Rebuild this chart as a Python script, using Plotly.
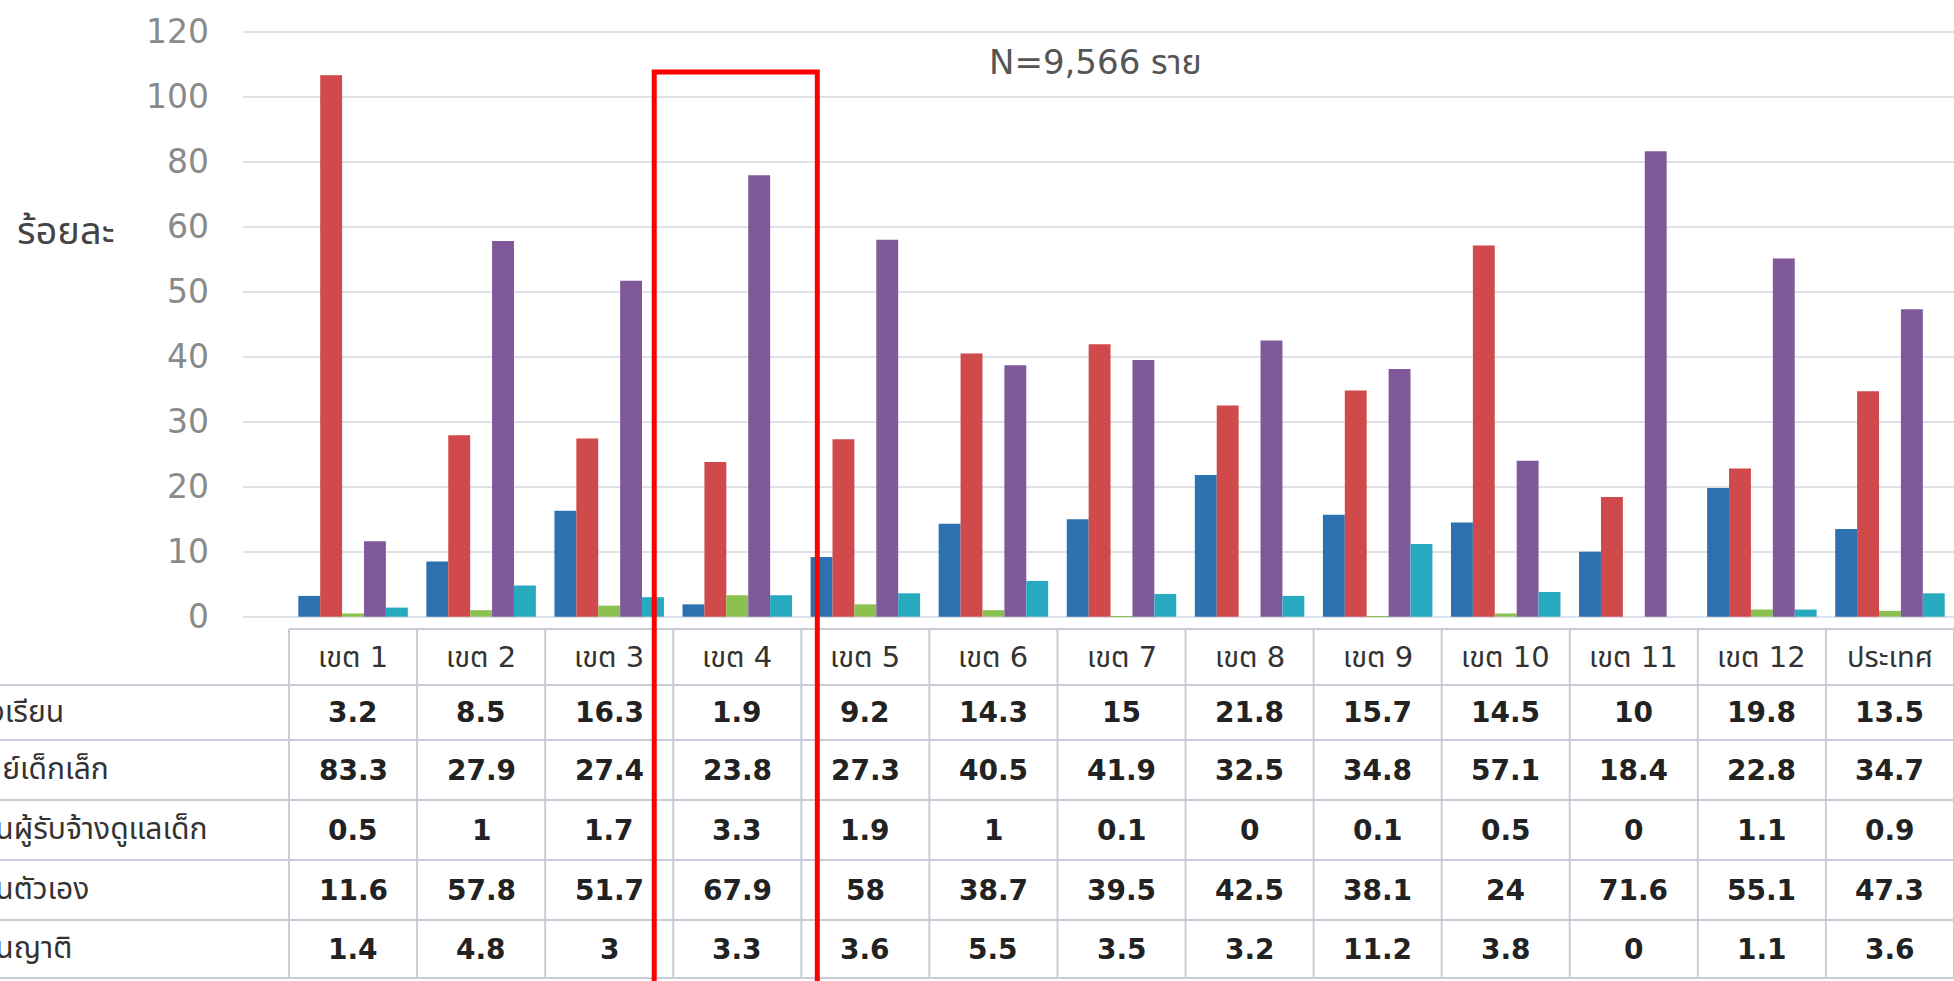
import plotly.graph_objects as go

# ---------------- data ----------------
regions = ["เขต 1", "เขต 2", "เขต 3", "เขต 4", "เขต 5", "เขต 6", "เขต 7",
           "เขต 8", "เขต 9", "เขต 10", "เขต 11", "เขต 12", "ประเทศ"]
series_names = ["โรงเรียน", "ศูนย์เด็กเล็ก", "บ้านผู้รับจ้างดูแลเด็ก", "บ้านตัวเอง", "บ้านญาติ"]
school = [3.2, 8.5, 16.3, 1.9, 9.2, 14.3, 15, 21.8, 15.7, 14.5, 10, 19.8, 13.5]
child_center = [83.3, 27.9, 27.4, 23.8, 27.3, 40.5, 41.9, 32.5, 34.8, 57.1, 18.4, 22.8, 34.7]
nanny_home = [0.5, 1, 1.7, 3.3, 1.9, 1, 0.1, 0, 0.1, 0.5, 0, 1.1, 0.9]
own_home = [11.6, 57.8, 51.7, 67.9, 58, 38.7, 39.5, 42.5, 38.1, 24, 71.6, 55.1, 47.3]
relative_home = [1.4, 4.8, 3, 3.3, 3.6, 5.5, 3.5, 3.2, 11.2, 3.8, 0, 1.1, 3.6]
tick_vals = [0, 10, 20, 30, 40, 50, 60, 70, 80, 90]
tick_text = ["0", "10", "20", "30", "40", "50", "60", "80", "100", "120"]
subtitle = "N=9,566 ราย"
y_title = "ร้อยละ"
highlight_region = "เขต 4"

series = [school, child_center, nanny_home, own_home, relative_home]
colors = ["#2c72b0", "#d0494b", "#8cc152", "#7f5999", "#27a9c0"]

# ---------------- layout geometry (pixels) ----------------
W, H = 1954, 981
L, R = 243, 0
T, B = 8, 363
PW, PH = W - L - R, H - T - B
COL0 = 289.0
COLW = (W - COL0) / len(regions)
x_lo = -0.5 - (COL0 - L) / COLW


def px(xp):
    return (xp - L) / PW


def py(yp):
    return (H - B - yp) / PH


FONT_TH = "Noto Sans Thai, Noto Sans, sans-serif"
FONT_NUM = "DejaVu Sans, Noto Sans Thai, sans-serif"

fig = go.Figure()
for name, vals, col in zip(series_names, series, colors):
    fig.add_trace(go.Bar(x=list(range(len(regions))), y=vals, name=name,
                         marker=dict(color=col, line=dict(width=0))))

fig.update_layout(
    width=W, height=H, autosize=False,
    margin=dict(l=L, r=R, t=T, b=B, pad=0),
    paper_bgcolor="white", plot_bgcolor="white",
    barmode="group", bargap=0.145, bargroupgap=0,
    showlegend=False,
    font=dict(family=FONT_TH, color="#333"),
    xaxis=dict(range=[x_lo, len(regions) - 0.5], showticklabels=False,
               showgrid=False, zeroline=False, showline=False, fixedrange=True),
    yaxis=dict(range=[-0.2, (H - B - T) / 6.5 - 0.2], tickvals=tick_vals, ticktext=tick_text,
               showgrid=True, gridcolor="#dfe1e8", gridwidth=1.5, zeroline=False,
               showline=False, ticks="", ticklabelstandoff=33, fixedrange=True,
               tickfont=dict(size=33, color="#8a8a8a", family=FONT_NUM)),
)

shapes = []
line_col = "#c8ccd8"
rows_y = [629, 685, 740, 800, 860, 920, 978]
# table horizontal lines
for i, yy in enumerate(rows_y):
    x0 = COL0 if i == 0 else 0
    shapes.append(dict(type="line", xref="paper", yref="paper", x0=px(x0), x1=px(W),
                       y0=py(yy), y1=py(yy), line=dict(color=line_col, width=2)))
# table vertical lines
for k in range(len(regions) + 1):
    xx = COL0 + k * COLW
    shapes.append(dict(type="line", xref="paper", yref="paper", x0=px(xx), x1=px(xx),
                       y0=py(rows_y[0]), y1=py(rows_y[-1]), line=dict(color=line_col, width=2)))
# highlight rectangle
hi = regions.index(highlight_region)
hx0 = COL0 + hi * COLW - 19
hx1 = COL0 + (hi + 1) * COLW + 16
shapes.append(dict(type="rect", xref="paper", yref="paper", x0=px(hx0), x1=px(hx1),
                   y0=py(72), y1=py(995), line=dict(color="#ff0000", width=5),
                   fillcolor="rgba(0,0,0,0)"))
fig.update_layout(shapes=shapes)

ann = []
ann.append(dict(text=subtitle, xref="paper", yref="paper", x=px(1095), y=py(62),
                showarrow=False, xanchor="center", yanchor="middle",
                font=dict(size=34, color="#555", family=FONT_NUM)))
ann.append(dict(text=y_title, xref="paper", yref="paper", x=px(15), y=py(232),
                showarrow=False, xanchor="left", yanchor="middle",
                font=dict(size=38, color="#444", family=FONT_TH)))
# header row
for i, r in enumerate(regions):
    cx = COL0 + (i + 0.5) * COLW
    ann.append(dict(text=r, xref="paper", yref="paper", x=px(cx), y=py((rows_y[0] + rows_y[1]) / 2),
                    showarrow=False, xanchor="center", yanchor="middle",
                    font=dict(size=29, color="#333", family=FONT_NUM)))


def fmt(v):
    return f"{v:g}"


for j, (name, vals) in enumerate(zip(series_names, series)):
    cy = (rows_y[j + 1] + rows_y[j + 2]) / 2
    ann.append(dict(text=name, xref="paper", yref="paper", x=px(-37), y=py(cy),
                    showarrow=False, xanchor="left", yanchor="middle",
                    font=dict(size=30, color="#333", family=FONT_TH)))
    for i, v in enumerate(vals):
        cx = COL0 + (i + 0.5) * COLW
        ann.append(dict(text=f"<b>{fmt(v)}</b>", xref="paper", yref="paper", x=px(cx), y=py(cy),
                        showarrow=False, xanchor="center", yanchor="middle",
                        font=dict(size=28, color="#222", family=FONT_NUM)))
fig.update_layout(annotations=ann)

fig.write_html("out.html", config={"displayModeBar": False},
               post_script="document.body.style.margin='0';document.body.style.overflow='hidden';")
